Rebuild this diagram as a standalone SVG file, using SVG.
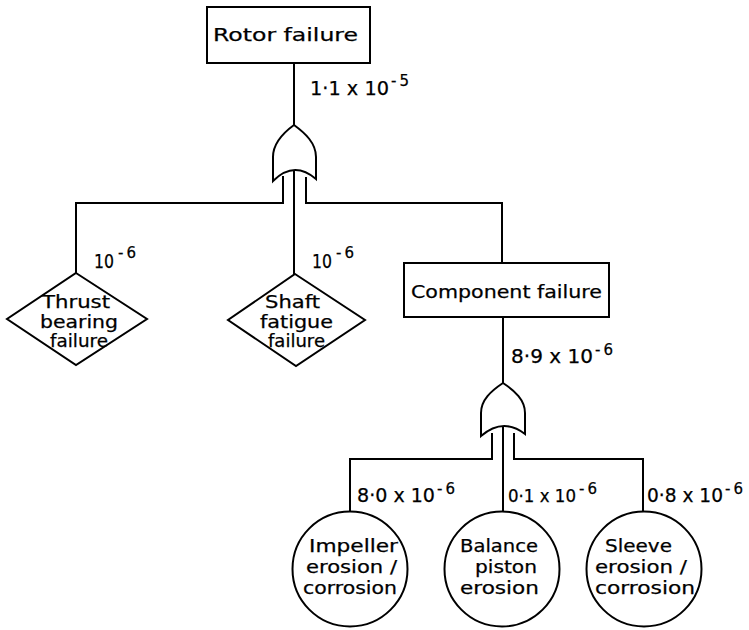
<svg xmlns="http://www.w3.org/2000/svg" width="749" height="630" viewBox="0 0 749 630">
  <defs>
    <style>
      .shape { fill: #fff; stroke: #000; stroke-width: 2; }
      .wire { fill: none; stroke: #000; stroke-width: 2; }
      text { font-family: "DejaVu Sans", "Liberation Sans", sans-serif; fill: #000; stroke: #000; stroke-width: 0.25; }
      .t18 { font-size: 18px; }
      .t19 { font-size: 19px; }
      .t17 { font-size: 17px; }
      .dia { font-size: 17px; }
      .cir { font-size: 18px; }
      .sup { font-size: 15px; letter-spacing: 3px; }
    </style>
  </defs>
  <rect width="749" height="630" fill="#fff"/>

  <!-- connectors -->
  <g id="connectors" class="wire">
    <path d="M294,63 V125"/>
    <path d="M283,176 V203 H76 V273"/>
    <path d="M294,170 V274"/>
    <path d="M306,177 V203 H502 V263"/>
    <path d="M503,317 V383"/>
    <path d="M492,433 V459 H350 V511"/>
    <path d="M503,427 V511"/>
    <path d="M514,433 V459 H643 V511"/>
  </g>

  <!-- top event -->
  <g id="rotor-failure">
    <rect class="shape" x="207" y="7" width="163" height="56"/>
    <text class="t18" x="213" y="41" textLength="145" lengthAdjust="spacingAndGlyphs">Rotor failure</text>
    <text class="t19"><tspan x="310" y="95" textLength="79" lengthAdjust="spacingAndGlyphs">1·1 x 10</tspan><tspan class="sup" x="391" y="86">-5</tspan></text>
  </g>

  <!-- OR gate under the top event -->
  <g id="or-gate-1">
    <path class="shape" d="M273,181 V157 C273,143 283,133 294,125 C305,133 316,143 316,157 V179 Q294,160 273,181 Z"/>
  </g>

  <g id="thrust-bearing-failure">
    <polygon class="shape" points="76,273 147,319 76,365 7,319"/>
    <text class="t19"><tspan x="94" y="268" textLength="20" lengthAdjust="spacingAndGlyphs">10</tspan><tspan class="sup" x="118" y="258">-6</tspan></text>
    <text class="dia" x="42" y="308" textLength="68" lengthAdjust="spacingAndGlyphs">Thrust</text>
    <text class="dia" x="40" y="327.5" textLength="78" lengthAdjust="spacingAndGlyphs">bearing</text>
    <text class="dia" x="50" y="347" textLength="58" lengthAdjust="spacingAndGlyphs">failure</text>
  </g>

  <g id="shaft-fatigue-failure">
    <polygon class="shape" points="295,274 365,320 296,366 228,320"/>
    <text class="t19"><tspan x="312" y="268" textLength="20" lengthAdjust="spacingAndGlyphs">10</tspan><tspan class="sup" x="336" y="258">-6</tspan></text>
    <text class="dia" x="265" y="308" textLength="55" lengthAdjust="spacingAndGlyphs">Shaft</text>
    <text class="dia" x="260" y="327.5" textLength="73" lengthAdjust="spacingAndGlyphs">fatigue</text>
    <text class="dia" x="268" y="347" textLength="57" lengthAdjust="spacingAndGlyphs">failure</text>
  </g>

  <g id="component-failure">
    <rect class="shape" x="404" y="263" width="205" height="54"/>
    <text class="t18" x="411" y="298" textLength="191" lengthAdjust="spacingAndGlyphs">Component failure</text>
    <text class="t19"><tspan x="511" y="363" textLength="82" lengthAdjust="spacingAndGlyphs">8·9 x 10</tspan><tspan class="sup" x="595" y="355">-6</tspan></text>
  </g>

  <!-- OR gate under the intermediate event -->
  <g id="or-gate-2">
    <path class="shape" d="M481,436 V413 C481,400 491,391 503,383 C515,391 525,400 525,413 V434 Q503,417 481,436 Z"/>
  </g>

  <g id="impeller-erosion">
    <circle class="shape" cx="350" cy="569" r="57.5"/>
    <text class="t19"><tspan x="357" y="502" textLength="78" lengthAdjust="spacingAndGlyphs">8·0 x 10</tspan><tspan class="sup" x="437" y="494">-6</tspan></text>
    <text class="cir" x="309" y="552" textLength="89" lengthAdjust="spacingAndGlyphs">Impeller</text>
    <text class="cir" x="306" y="573" textLength="91" lengthAdjust="spacingAndGlyphs">erosion /</text>
    <text class="cir" x="303" y="594" textLength="94" lengthAdjust="spacingAndGlyphs">corrosion</text>
  </g>

  <g id="balance-piston-erosion">
    <circle class="shape" cx="502" cy="569" r="57.5"/>
    <text class="t17"><tspan x="508" y="502" textLength="68" lengthAdjust="spacingAndGlyphs">0·1 x 10</tspan><tspan class="sup" x="579" y="494">-6</tspan></text>
    <text class="cir" x="460" y="552" textLength="78" lengthAdjust="spacingAndGlyphs">Balance</text>
    <text class="cir" x="475" y="573" textLength="62" lengthAdjust="spacingAndGlyphs">piston</text>
    <text class="cir" x="460" y="594" textLength="79" lengthAdjust="spacingAndGlyphs">erosion</text>
  </g>

  <g id="sleeve-erosion">
    <circle class="shape" cx="644" cy="569" r="57.5"/>
    <text class="t19"><tspan x="647" y="502" textLength="76" lengthAdjust="spacingAndGlyphs">0·8 x 10</tspan><tspan class="sup" x="725" y="494">-6</tspan></text>
    <text class="cir" x="605" y="552" textLength="67" lengthAdjust="spacingAndGlyphs">Sleeve</text>
    <text class="cir" x="595" y="573" textLength="92" lengthAdjust="spacingAndGlyphs">erosion /</text>
    <text class="cir" x="595" y="594" textLength="100" lengthAdjust="spacingAndGlyphs">corrosion</text>
  </g>
</svg>
